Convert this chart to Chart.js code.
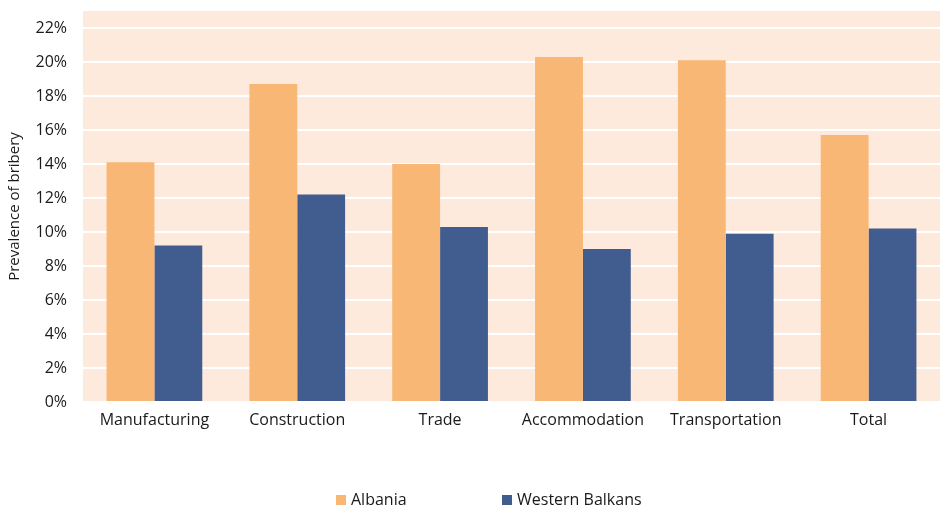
<!DOCTYPE html>
<html>
<head>
<meta charset="utf-8">
<script src="https://cdn.jsdelivr.net/npm/chart.js@4.4.1/dist/chart.umd.min.js"></script>
<style>
  html, body { margin: 0; padding: 0; background: #fff; }
  #wrap { position: relative; width: 941px; height: 507px; }
  #legend { position: absolute; left: 0; top: 488px; width: 941px; font: 16px "Open Sans", sans-serif; color: #1a1a1a; }
  .item { position: absolute; top: 0; white-space: nowrap; }
  .swatch { display: inline-block; width: 10px; height: 10px; margin-right: 5px; vertical-align: 0px; }
</style>
</head>
<body>
<div id="wrap">
  <canvas id="chart" width="941" height="507"></canvas>
  <div id="legend">
    <span class="item" style="left:336px"><span class="swatch" style="background:#F8B774"></span>Albania</span>
    <span class="item" style="left:502px"><span class="swatch" style="background:#415C8E"></span>Western Balkans</span>
  </div>
</div>
<script>
const categories = ["Manufacturing", "Construction", "Trade", "Accommodation", "Transportation", "Total"];
const albania = [0.141, 0.187, 0.140, 0.203, 0.201, 0.157];
const westernBalkans = [0.092, 0.122, 0.103, 0.090, 0.099, 0.102];
const yTicks = [0, 0.02, 0.04, 0.06, 0.08, 0.10, 0.12, 0.14, 0.16, 0.18, 0.20, 0.22];

const plotBg = {
  id: 'plotBg',
  beforeDraw(chart) {
    const { ctx, chartArea: a } = chart;
    ctx.save();
    ctx.fillStyle = '#FDEADC';
    ctx.fillRect(a.left, a.top, a.right - a.left, a.bottom - a.top);
    ctx.restore();
  }
};

const font = { family: 'Open Sans', size: 16 };

new Chart(document.getElementById('chart'), {
  type: 'bar',
  data: {
    labels: categories,
    datasets: [
      { label: 'Albania', data: albania, backgroundColor: '#F8B774', borderWidth: 0 },
      { label: 'Western Balkans', data: westernBalkans, backgroundColor: '#415C8E', borderWidth: 0 }
    ]
  },
  options: {
    responsive: false,
    animation: false,
    layout: { padding: { top: 11, right: 1, left: 0, bottom: 0 } },
    datasets: { bar: { categoryPercentage: 0.67, barPercentage: 1 } },
    plugins: {
      legend: { display: false },
      tooltip: { enabled: false }
    },
    scales: {
      x: {
        grid: { display: false },
        border: { display: false },
        ticks: { color: '#1a1a1a', font: font, padding: 1, maxRotation: 0 },
        afterFit: s => { s.height = 105; s.paddingLeft = 0; s.paddingRight = 0; }
      },
      y: {
        min: 0,
        max: 0.23,
        afterBuildTicks: axis => { axis.ticks = yTicks.map(v => ({ value: v })); },
        grid: { color: '#FFFFFF', lineWidth: 2, drawTicks: false },
        border: { display: false },
        ticks: {
          color: '#1a1a1a',
          font: font,
          padding: 16,
          callback: v => Math.round(v * 100) + '%'
        },
        title: { display: true, text: 'Prevalence of bribery', color: '#1a1a1a', font: { family: 'Open Sans', size: 15 }, padding: { top: 6, bottom: 0 } },
        afterFit: s => { s.width = 83; s.paddingTop = 0; s.paddingBottom = 0; }
      }
    }
  },
  plugins: [plotBg]
});
</script>
</body>
</html>
